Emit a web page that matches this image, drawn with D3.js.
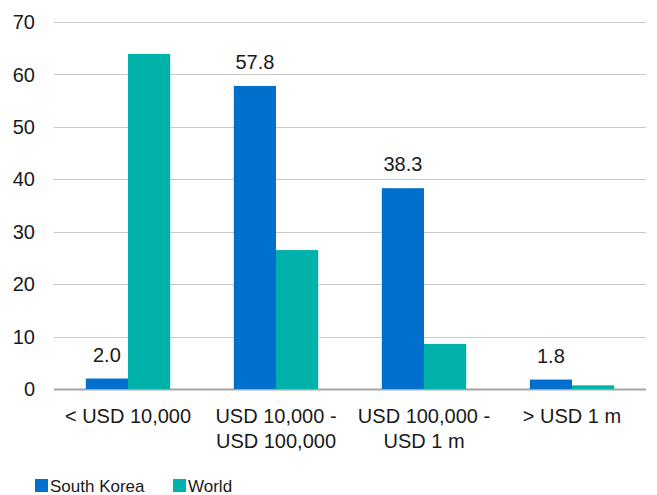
<!DOCTYPE html>
<html>
<head>
<meta charset="utf-8">
<script src="https://cdn.jsdelivr.net/npm/d3@7"></script>
<style>
  body { margin: 0; background: #fff; }
  text { font-family: "Liberation Sans", Arial, sans-serif; fill: #1a1a1a; }
</style>
</head>
<body>
<svg id="chart"></svg>
<script>
const categories = ['< USD 10,000', 'USD 10,000 - USD 100,000', 'USD 100,000 - USD 1 m', '> USD 1 m'];
const categoryLines = [['< USD 10,000'], ['USD 10,000 -', 'USD 100,000'], ['USD 100,000 -', 'USD 1 m'], ['> USD 1 m']];
const southKorea = [2.0, 57.8, 38.3, 1.8];
const world = [63.9, 26.5, 8.6, 0.7];
const seriesNames = ['South Korea', 'World'];
const yTicks = [0, 10, 20, 30, 40, 50, 60, 70];

const width = 657;
const height = 495;
const margin = { top: 22, right: 11, bottom: 106, left: 54 };
const colors = ['#0070cc', '#00b2a9'];

const svg = d3.select('#chart')
  .attr('width', width)
  .attr('height', height);

const g = svg.append('g')
  .attr('transform', `translate(${margin.left}, ${margin.top})`);

const innerW = width - margin.left - margin.right;
const innerH = height - margin.top - margin.bottom;

const x = d3.scaleBand()
  .domain(categories)
  .range([0, innerW])
  .paddingInner(0.43)
  .paddingOuter(0.215);

const xSub = d3.scaleBand()
  .domain(seriesNames)
  .range([0, x.bandwidth()]);

const y = d3.scaleLinear()
  .domain([0, 70])
  .range([innerH, 0]);

// gridlines
g.append('g')
  .selectAll('line')
  .data(yTicks)
  .enter().append('line')
  .attr('x1', 0)
  .attr('x2', innerW)
  .attr('y1', d => Math.round(y(d)) + 0.5)
  .attr('y2', d => Math.round(y(d)) + 0.5)
  .attr('stroke', d => d === 0 ? '#a6a6a6' : '#c8c8c8')
  .attr('stroke-width', d => d === 0 ? 2 : 1);

// y tick labels
g.append('g')
  .selectAll('text')
  .data(yTicks)
  .enter().append('text')
  .attr('x', -19)
  .attr('y', d => y(d))
  .attr('dy', '0.36em')
  .attr('text-anchor', 'end')
  .style('font-size', '20px')
  .text(d => d);

const series = [southKorea, world];

series.forEach((vals, si) => {
  g.append('g')
    .selectAll('rect')
    .data(vals)
    .enter().append('rect')
    .attr('x', (d, i) => x(categories[i]) + xSub(seriesNames[si]))
    .attr('y', d => y(d))
    .attr('width', xSub.bandwidth())
    .attr('height', d => y(0) - y(d))
    .attr('fill', colors[si]);
});

// data labels for South Korea
g.append('g')
  .selectAll('text')
  .data(southKorea)
  .enter().append('text')
  .attr('x', (d, i) => x(categories[i]) + xSub('South Korea') + xSub.bandwidth() / 2)
  .attr('y', d => y(d) - 17)
  .attr('text-anchor', 'middle')
  .style('font-size', '20px')
  .text(d => d.toFixed(1));

// category labels
const catG = g.append('g');
categories.forEach((c, i) => {
  const t = catG.append('text')
    .attr('x', x(c) + x.bandwidth() / 2)
    .attr('y', innerH + 34)
    .attr('text-anchor', 'middle')
    .style('font-size', '20px');
  categoryLines[i].forEach((line, j) => {
    t.append('tspan')
      .attr('x', x(c) + x.bandwidth() / 2)
      .attr('dy', j === 0 ? 0 : 25)
      .text(line);
  });
});

// legend
const legend = svg.append('g')
  .attr('transform', 'translate(35, 479)');
const legendX = [0, 138];
seriesNames.forEach((s, i) => {
  legend.append('rect')
    .attr('x', legendX[i])
    .attr('y', 0)
    .attr('width', 13)
    .attr('height', 13)
    .attr('fill', colors[i]);
  legend.append('text')
    .attr('x', legendX[i] + 15)
    .attr('y', 12.5)
    .style('font-size', '17px')
    .text(s);
});
</script>
</body>
</html>
